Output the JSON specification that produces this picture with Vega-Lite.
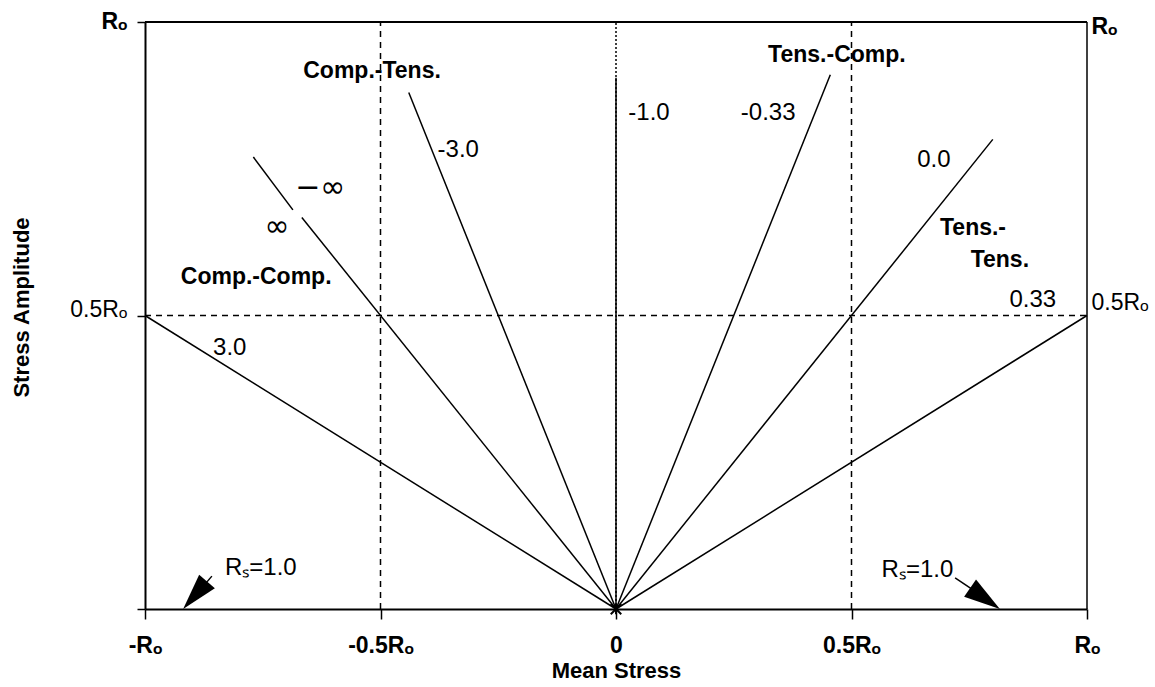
{
  "$schema": "https://vega.github.io/schema/vega-lite/v6.json",
  "width": 942,
  "height": 587,
  "autosize": {"type": "none"},
  "padding": {"left": 145, "top": 22, "right": 68, "bottom": 78},
  "background": "white",
  "config": {"view": {"stroke": null}, "font": "Liberation Sans", "axis": {"grid": false}},
  "resolve": {"axis": {"y": "independent"}},
  "datasets": {
    "top": [{"x": -1, "x2": 1, "y": 1}],
    "right": [{"x": 1, "y": 0, "y2": 1}],
    "dashedV": [{"x": -0.5, "y": 0, "y2": 1}, {"x": 0.5, "y": 0, "y2": 1}],
    "dashedH": [{"x": -1, "x2": 1, "y": 0.5}],
    "dottedV": [{"x": 0, "y": 0, "y2": 1}],
    "lines": [
      {"id": "3.0", "ord": 0, "x": 0, "y": 0}, {"id": "3.0", "ord": 1, "x": -1, "y": 0.5},
      {"id": "inf_a", "ord": 0, "x": -0.77, "y": 0.77}, {"id": "inf_a", "ord": 1, "x": -0.686, "y": 0.68},
      {"id": "inf_b", "ord": 0, "x": -0.667, "y": 0.667}, {"id": "inf_b", "ord": 1, "x": 0, "y": 0},
      {"id": "-3.0", "ord": 0, "x": 0, "y": 0}, {"id": "-3.0", "ord": 1, "x": -0.44, "y": 0.88},
      {"id": "-1.0", "ord": 0, "x": 0, "y": 0}, {"id": "-1.0", "ord": 1, "x": 0, "y": 0.905},
      {"id": "-0.33", "ord": 0, "x": 0, "y": 0}, {"id": "-0.33", "ord": 1, "x": 0.455, "y": 0.91},
      {"id": "0.0", "ord": 0, "x": 0, "y": 0}, {"id": "0.0", "ord": 1, "x": 0.8, "y": 0.8},
      {"id": "0.33", "ord": 0, "x": 0, "y": 0}, {"id": "0.33", "ord": 1, "x": 1, "y": 0.5},
      {"id": "arrowL", "ord": 0, "x": -0.858, "y": 0.056}, {"id": "arrowL", "ord": 1, "x": -0.905, "y": 0.012},
      {"id": "arrowR", "ord": 0, "x": 0.72, "y": 0.053}, {"id": "arrowR", "ord": 1, "x": 0.8, "y": 0.01}
    ],
    "headL": [{"x": -0.919, "y": 0}],
    "headR": [{"x": 0.815, "y": 0}],
    "origin": [{"x": 0, "y": 0}],
    "boldText": [
      {"x": -0.518, "y": 0.917, "t": "Comp.-Tens."},
      {"x": 0.469, "y": 0.944, "t": "Tens.-Comp."},
      {"x": 0.758, "y": 0.649, "t": "Tens.-"},
      {"x": 0.815, "y": 0.595, "t": "Tens."},
      {"x": -0.764, "y": 0.566, "t": "Comp.-Comp."}
    ],
    "normalText": [
      {"x": -0.335, "y": 0.782, "t": "-3.0"},
      {"x": 0.07, "y": 0.845, "t": "-1.0"},
      {"x": 0.323, "y": 0.845, "t": "-0.33"},
      {"x": 0.675, "y": 0.765, "t": "0.0"},
      {"x": 0.885, "y": 0.526, "t": "0.33"},
      {"x": -0.82, "y": 0.445, "t": "3.0"},
      {"x": -0.754, "y": 0.07, "t": "Rₛ=1.0"},
      {"x": 0.64, "y": 0.066, "t": "Rₛ=1.0"}
    ],
    "infText": [
      {"x": -0.628, "y": 0.717, "t": "−∞"},
      {"x": -0.72, "y": 0.651, "t": "∞"}
    ]
  },
  "layer": [
    {
      "data": {"name": "top"},
      "mark": {"type": "rule", "color": "black", "strokeWidth": 2},
      "encoding": {
        "x": {
          "field": "x", "type": "quantitative",
          "scale": {"domain": [-1, 1], "nice": false, "zero": false},
          "axis": {
            "values": [-1, -0.5, 0, 0.5, 1],
            "labelExpr": "datum.value == -1 ? '-Rₒ' : datum.value == -0.5 ? '-0.5Rₒ' : datum.value == 0 ? '0' : datum.value == 0.5 ? '0.5Rₒ' : 'Rₒ'",
            "title": "Mean Stress",
            "titleFontSize": 22, "titleFontWeight": "bold", "titleColor": "black",
            "titleY": 61, "titleBaseline": "middle",
            "labelFontSize": 23, "labelFontWeight": "bold", "labelColor": "black",
            "labelPadding": 15, "labelFlush": false, "labelOverlap": false,
            "tickColor": "black", "tickSize": 10, "tickWidth": 1.5,
            "domainColor": "black", "domainWidth": 2
          }
        },
        "x2": {"field": "x2"},
        "y": {
          "field": "y", "type": "quantitative",
          "scale": {"domain": [0, 1], "nice": false, "zero": false},
          "axis": {
            "values": [0, 0.5, 1],
            "labelExpr": "datum.value == 1 ? 'Rₒ' : datum.value == 0.5 ? '0.5Rₒ' : ''",
            "labelFontWeight": {"condition": {"test": "datum.value == 1", "value": "bold"}, "value": "normal"},
            "labelFontSize": 23, "labelColor": "black", "labelBaseline": "alphabetic",
            "labelOffset": {"condition": {"test": "datum.value == 1", "value": 6}, "value": 1},
            "labelPadding": 10, "labelFlush": false, "labelOverlap": false,
            "tickColor": "black", "tickSize": 8, "tickWidth": 1.5,
            "domainColor": "black", "domainWidth": 2,
            "title": "Stress Amplitude",
            "titleFontSize": 22, "titleFontWeight": "bold", "titleColor": "black",
            "titleX": -124, "titleY": 285, "titleAngle": 270, "titleAlign": "center", "titleBaseline": "middle"
          }
        }
      }
    },
    {
      "data": {"name": "right"},
      "mark": {"type": "rule", "color": "black", "strokeWidth": 1.5},
      "encoding": {
        "x": {"field": "x", "type": "quantitative"},
        "y": {
          "field": "y", "type": "quantitative",
          "axis": {
            "orient": "right",
            "values": [0.5, 1],
            "labelExpr": "datum.value == 1 ? 'Rₒ' : '0.5Rₒ'",
            "labelFontWeight": {"condition": {"test": "datum.value == 1", "value": "bold"}, "value": "normal"},
            "labelFontSize": 23, "labelColor": "black", "labelBaseline": "alphabetic",
            "labelOffset": {"condition": {"test": "datum.value == 1", "value": 11}, "value": -6},
            "labelPadding": 4, "labelFlush": false, "labelOverlap": false,
            "ticks": false, "domain": false, "title": null
          }
        },
        "y2": {"field": "y2"}
      }
    },
    {
      "data": {"name": "dashedV"},
      "mark": {"type": "rule", "color": "black", "strokeWidth": 1.5, "strokeDash": [6, 5]},
      "encoding": {
        "x": {"field": "x", "type": "quantitative"},
        "y": {"field": "y", "type": "quantitative", "axis": null},
        "y2": {"field": "y2"}
      }
    },
    {
      "data": {"name": "dashedH"},
      "mark": {"type": "rule", "color": "black", "strokeWidth": 1.5, "strokeDash": [6, 5]},
      "encoding": {
        "x": {"field": "x", "type": "quantitative"},
        "x2": {"field": "x2"},
        "y": {"field": "y", "type": "quantitative", "axis": null}
      }
    },
    {
      "data": {"name": "dottedV"},
      "mark": {"type": "rule", "color": "black", "strokeWidth": 1.5, "strokeDash": [2, 2]},
      "encoding": {
        "x": {"field": "x", "type": "quantitative"},
        "y": {"field": "y", "type": "quantitative", "axis": null},
        "y2": {"field": "y2"}
      }
    },
    {
      "data": {"name": "lines"},
      "mark": {"type": "line", "color": "black", "strokeWidth": 1.5},
      "encoding": {
        "x": {"field": "x", "type": "quantitative"},
        "y": {"field": "y", "type": "quantitative", "axis": null},
        "detail": {"field": "id"},
        "order": {"field": "ord"}
      }
    },
    {
      "data": {"name": "headL"},
      "mark": {"type": "point", "shape": "M0,0L-0.4,1.4L0.4,1.4Z", "size": 2700, "angle": 221, "filled": true, "color": "black", "opacity": 1},
      "encoding": {
        "x": {"field": "x", "type": "quantitative"},
        "y": {"field": "y", "type": "quantitative", "axis": null}
      }
    },
    {
      "data": {"name": "headR"},
      "mark": {"type": "point", "shape": "M0,0L-0.4,1.4L0.4,1.4Z", "size": 2700, "angle": 125, "filled": true, "color": "black", "opacity": 1},
      "encoding": {
        "x": {"field": "x", "type": "quantitative"},
        "y": {"field": "y", "type": "quantitative", "axis": null}
      }
    },
    {
      "data": {"name": "origin"},
      "mark": {"type": "point", "shape": "M-1,-1L1,1M-1,1L1,-1M0,-1L0,1", "size": 110, "filled": false, "stroke": "black", "strokeWidth": 2, "opacity": 1},
      "encoding": {
        "x": {"field": "x", "type": "quantitative"},
        "y": {"field": "y", "type": "quantitative", "axis": null}
      }
    },
    {
      "data": {"name": "boldText"},
      "mark": {"type": "text", "fontSize": 23, "fontWeight": "bold", "color": "black", "align": "center", "baseline": "middle"},
      "encoding": {
        "x": {"field": "x", "type": "quantitative"},
        "y": {"field": "y", "type": "quantitative", "axis": null},
        "text": {"field": "t"}
      }
    },
    {
      "data": {"name": "normalText"},
      "mark": {"type": "text", "fontSize": 24, "color": "black", "align": "center", "baseline": "middle"},
      "encoding": {
        "x": {"field": "x", "type": "quantitative"},
        "y": {"field": "y", "type": "quantitative", "axis": null},
        "text": {"field": "t"}
      }
    },
    {
      "data": {"name": "infText"},
      "mark": {"type": "text", "fontSize": 30, "color": "black", "align": "center", "baseline": "middle", "font": "DejaVu Sans"},
      "encoding": {
        "x": {"field": "x", "type": "quantitative"},
        "y": {"field": "y", "type": "quantitative", "axis": null},
        "text": {"field": "t"}
      }
    }
  ]
}
